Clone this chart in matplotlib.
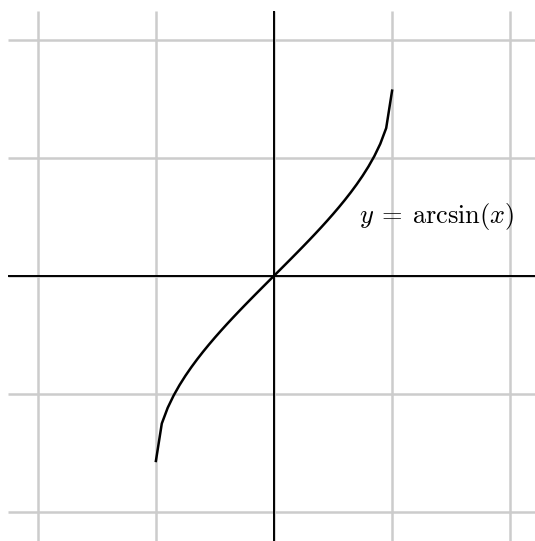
import matplotlib
matplotlib.use("Agg")
import matplotlib.pyplot as plt

plt.rcParams['mathtext.fontset'] = 'cm'

# sampled points of the curve
x_vals = [-1.00, -0.95, -0.90, -0.85, -0.80, -0.75, -0.70, -0.65, -0.60, -0.55,
          -0.50, -0.45, -0.40, -0.35, -0.30, -0.25, -0.20, -0.15, -0.10, -0.05,
          0.00, 0.05, 0.10, 0.15, 0.20, 0.25, 0.30, 0.35, 0.40, 0.45,
          0.50, 0.55, 0.60, 0.65, 0.70, 0.75, 0.80, 0.85, 0.90, 0.95, 1.00]
y_vals = [-1.5708, -1.2532, -1.1198, -1.0160, -0.9273, -0.8481, -0.7754, -0.7076, -0.6435, -0.5824,
          -0.5236, -0.4668, -0.4115, -0.3576, -0.3047, -0.2527, -0.2014, -0.1506, -0.1002, -0.0500,
          0.0, 0.0500, 0.1002, 0.1506, 0.2014, 0.2527, 0.3047, 0.3576, 0.4115, 0.4668,
          0.5236, 0.5824, 0.6435, 0.7076, 0.7754, 0.8481, 0.9273, 1.0160, 1.1198, 1.2532, 1.5708]
grid_ticks = [-2, -1, 0, 1, 2]
label = r'$y\:=\:\arcsin(x)$'

fig = plt.figure(figsize=(5.35, 5.41), dpi=100)
ax = fig.add_axes([0, 0, 1, 1])
ax.set_xlim(-2.32, 2.21)
ax.set_ylim(-2.25, 2.34)
ax.axis('off')

# grid
for t in grid_ticks:
    ax.plot([t, t], [-2.3, 2.25], color='#cccccc', lw=1.8, zorder=1, solid_capstyle='butt')
    ax.plot([-2.25, 2.3], [t, t], color='#cccccc', lw=1.8, zorder=1, solid_capstyle='butt')

# axes
ax.plot([0, 0], [-2.3, 2.25], color='black', lw=1.4, zorder=2, solid_capstyle='butt')
ax.plot([-2.25, 2.3], [0, 0], color='black', lw=1.4, zorder=2, solid_capstyle='butt')

ax.plot(x_vals, y_vals, color='black', lw=1.8, zorder=3)
ax.text(1.38, 0.50, label, fontsize=19, ha='center', va='center', zorder=4)

fig.savefig('out.png', dpi=100)
